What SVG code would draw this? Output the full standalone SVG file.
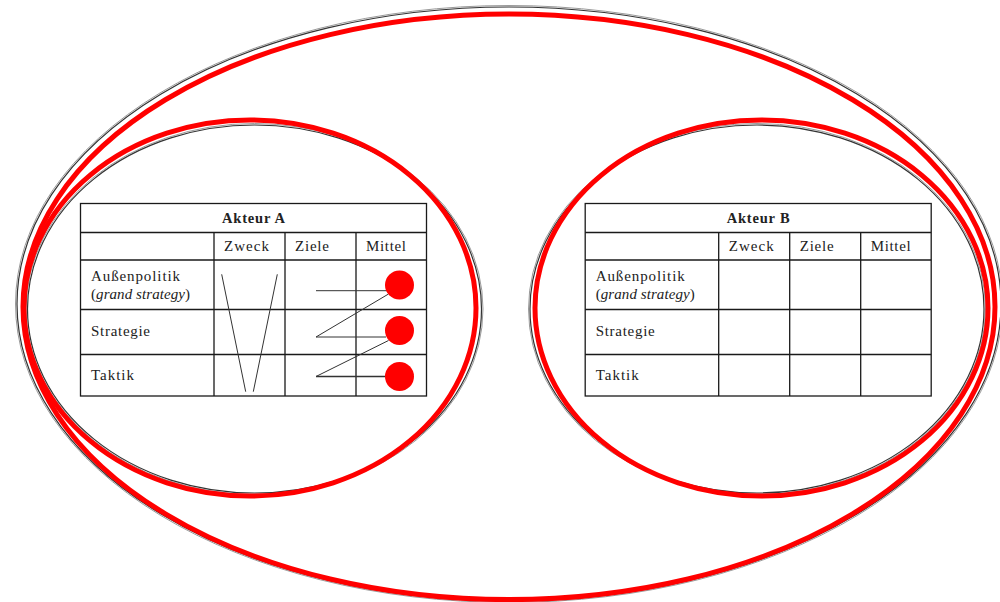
<svg xmlns="http://www.w3.org/2000/svg" width="1000" height="602" viewBox="0 0 1000 602">
<defs>
<style>
.blk{fill:none;stroke:#333;stroke-width:1.2}
.blk2{fill:none;stroke:#9a9a9a;stroke-width:1}
.red{fill:none;stroke:#ff0000;stroke-width:5}
.grid{fill:none;stroke:#1a1a1a;stroke-width:1.3}
.t{font-family:"Liberation Serif","Times New Roman",serif;font-size:15px;fill:#222}
.b{font-weight:bold;font-size:14.5px}
.i{font-style:italic}
.ln{fill:none;stroke:#333;stroke-width:1}
.dot{fill:#ff0000}
</style>
</defs>
<rect width="1000" height="602" fill="#ffffff"/>

<g id="ellipse-outer">
<ellipse class="blk2" cx="509" cy="304" rx="493.5" ry="298.5"/>
<ellipse class="blk" cx="509" cy="304" rx="492" ry="297"/>
<ellipse class="red" cx="509" cy="306.8" rx="486" ry="292.8"/>
</g>

<g id="ellipse-A">
<ellipse class="blk2" cx="254.5" cy="309" rx="228.5" ry="185.5"/>
<ellipse class="blk" cx="254.5" cy="309" rx="227" ry="184"/>
<ellipse class="red" cx="250" cy="308" rx="226" ry="188"/>
</g>

<g id="ellipse-B">
<ellipse class="blk2" cx="757" cy="309" rx="228.5" ry="185.5"/>
<ellipse class="blk" cx="757" cy="309" rx="227" ry="184"/>
<ellipse class="red" cx="761.5" cy="308" rx="226.5" ry="188"/>
</g>

<g id="table-A">
<rect class="grid" x="80.5" y="203.5" width="346" height="192.5" fill="#fff"/>
<path class="grid" d="M80.5 232.5H426.5M80.5 260H426.5M80.5 309.5H426.5M80.5 354.5H426.5M214 232.5V396M285 232.5V396M356 232.5V396"/>
<text class="t b" x="253.5" y="222.5" text-anchor="middle" textLength="63" lengthAdjust="spacing">Akteur A</text>
<text class="t" x="224" y="251" textLength="45" lengthAdjust="spacing">Zweck</text>
<text class="t" x="295" y="251" textLength="34" lengthAdjust="spacing">Ziele</text>
<text class="t" x="366" y="251" textLength="40" lengthAdjust="spacing">Mittel</text>
<text class="t" x="91" y="281" textLength="89" lengthAdjust="spacing">Außenpolitik</text>
<text class="t" x="91" y="298.5" textLength="99" lengthAdjust="spacing">(<tspan class="i">grand strategy</tspan>)</text>
<text class="t" x="91" y="335.5" textLength="59" lengthAdjust="spacing">Strategie</text>
<text class="t" x="91" y="380" textLength="43" lengthAdjust="spacing">Taktik</text>
</g>

<g id="table-B" transform="translate(504.7,0)">
<rect class="grid" x="80.5" y="203.5" width="346" height="192.5" fill="#fff"/>
<path class="grid" d="M80.5 232.5H426.5M80.5 260H426.5M80.5 309.5H426.5M80.5 354.5H426.5M214 232.5V396M285 232.5V396M356 232.5V396"/>
<text class="t b" x="253.5" y="222.5" text-anchor="middle" textLength="63" lengthAdjust="spacing">Akteur B</text>
<text class="t" x="224" y="251" textLength="45" lengthAdjust="spacing">Zweck</text>
<text class="t" x="295" y="251" textLength="34" lengthAdjust="spacing">Ziele</text>
<text class="t" x="366" y="251" textLength="40" lengthAdjust="spacing">Mittel</text>
<text class="t" x="91" y="281" textLength="89" lengthAdjust="spacing">Außenpolitik</text>
<text class="t" x="91" y="298.5" textLength="99" lengthAdjust="spacing">(<tspan class="i">grand strategy</tspan>)</text>
<text class="t" x="91" y="335.5" textLength="59" lengthAdjust="spacing">Strategie</text>
<text class="t" x="91" y="380" textLength="43" lengthAdjust="spacing">Taktik</text>
</g>

<g id="connectors">
<path class="ln" d="M221.7 274.3L245.7 391.7M277.3 274.3L253.3 391.7"/>
<path class="ln" d="M316 290.7H388M388.5 294L316 337H386M388.5 340.5L316 376.5"/>
<path class="ln" style="stroke-width:1.4" d="M316 376.5H386"/>
</g>

<g id="dot-1"><circle class="dot" cx="399.5" cy="285" r="14.5"/></g>
<g id="dot-2"><circle class="dot" cx="399.5" cy="330.5" r="14.5"/></g>
<g id="dot-3"><circle class="dot" cx="399.5" cy="376.5" r="14.5"/></g>
</svg>
